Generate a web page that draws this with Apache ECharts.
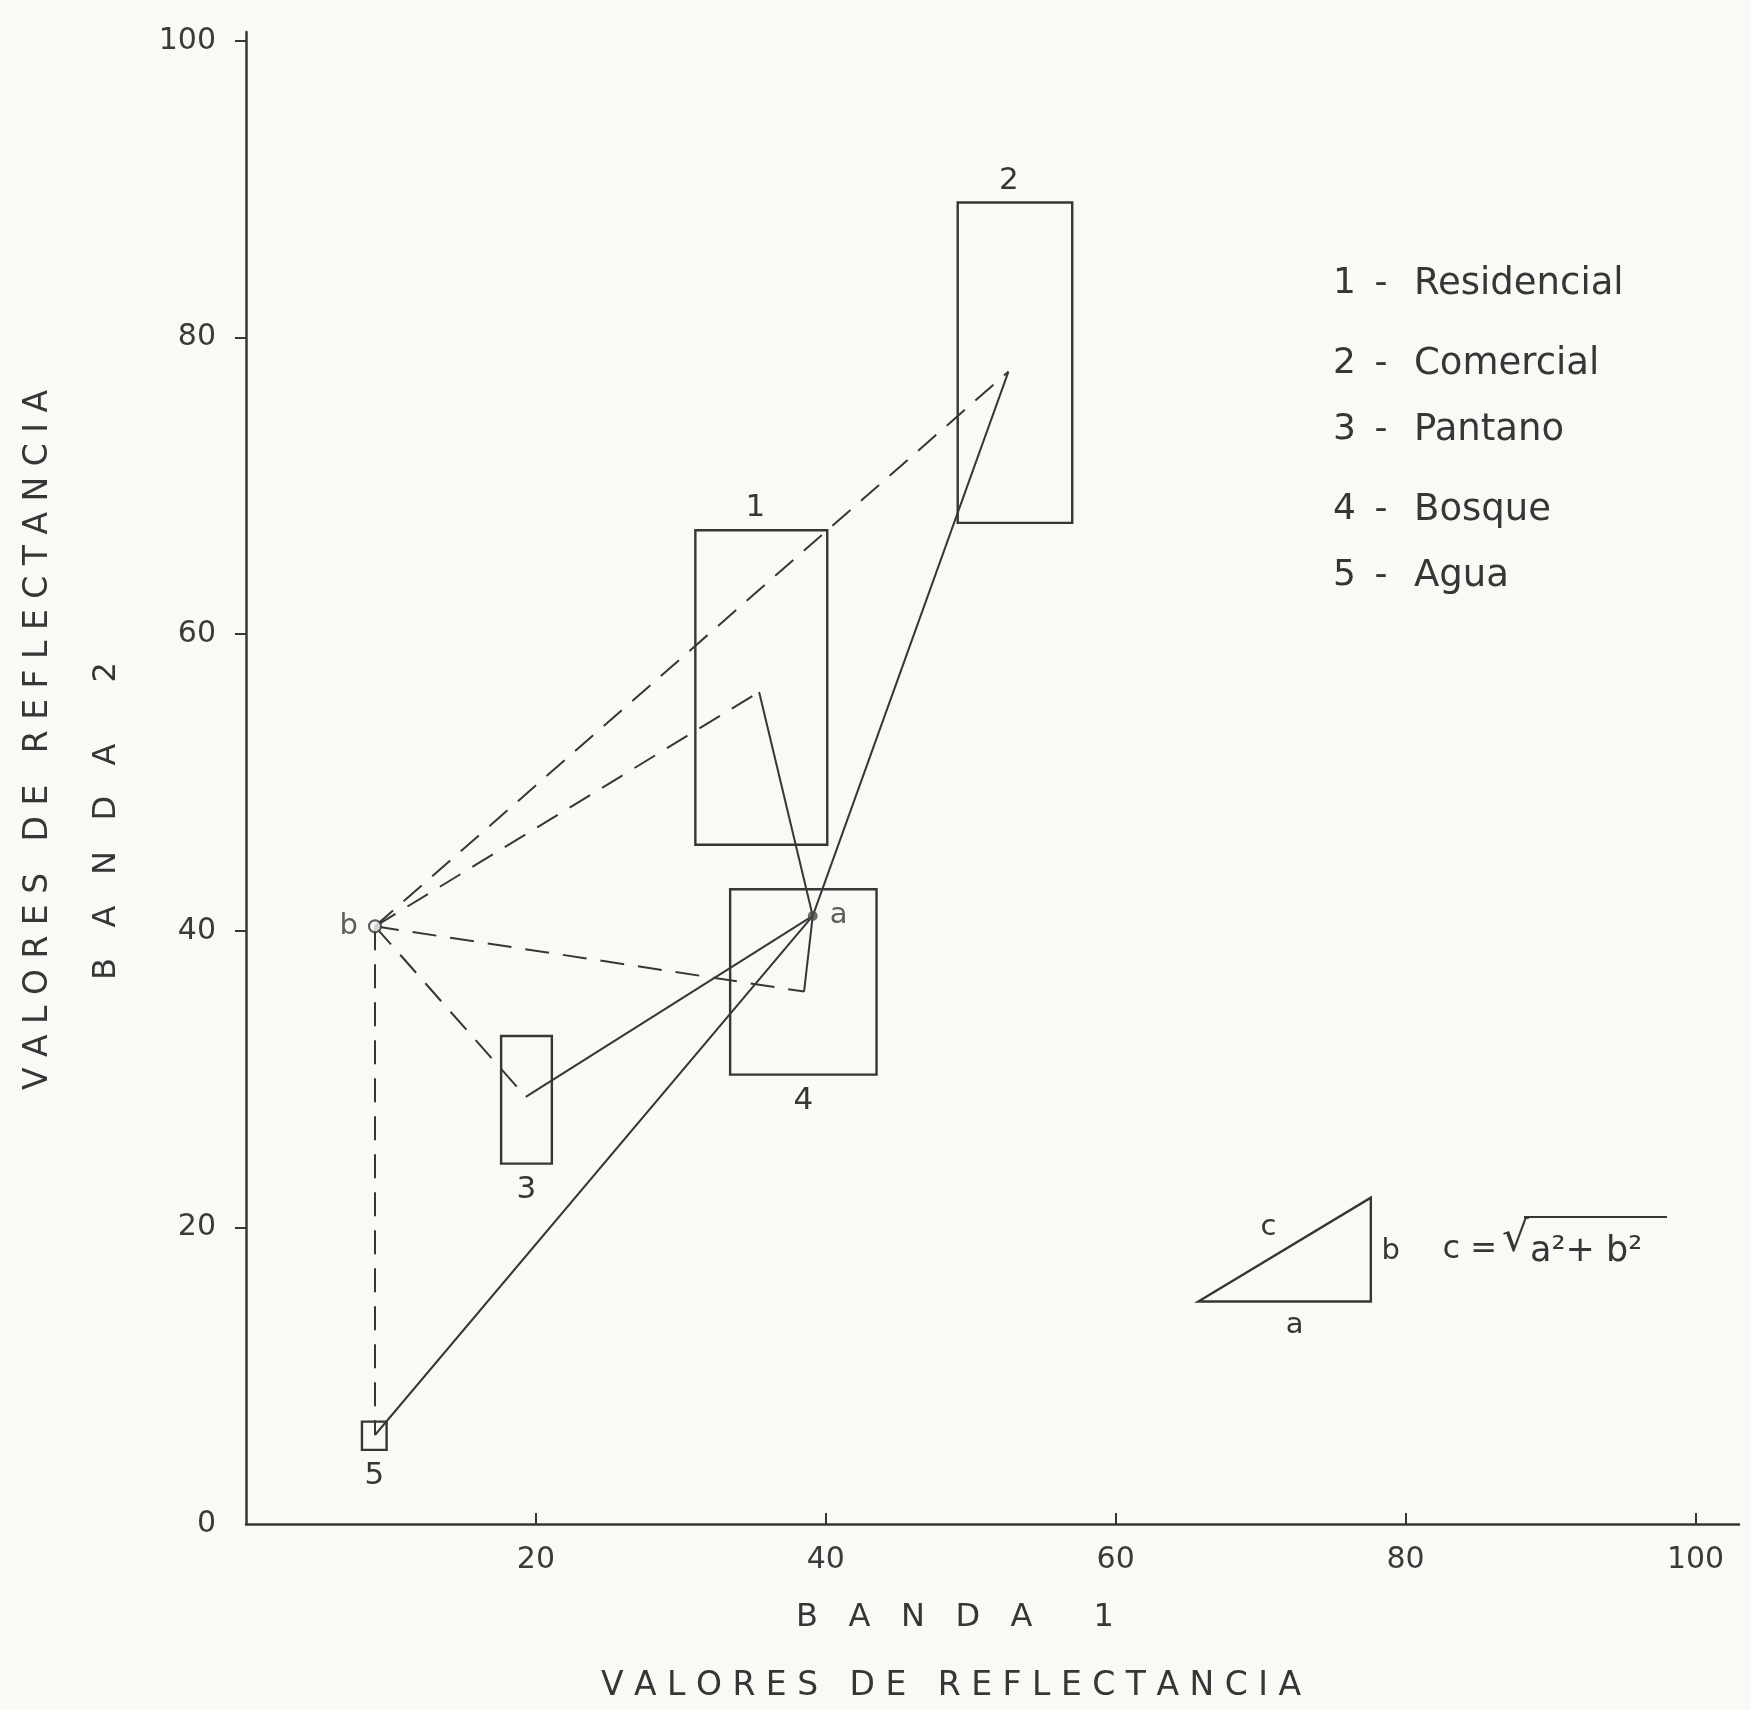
<!DOCTYPE html>
<html>
<head>
<meta charset="utf-8">
<title>Banda 1 / Banda 2 — valores de reflectancia</title>
<script src="https://cdn.jsdelivr.net/npm/echarts@6/dist/echarts.min.js"></script>
<style>
  html, body { margin: 0; padding: 0; background: #f9f9f6; }
  #chart { width: 1751px; height: 1710px; }
</style>
</head>
<body>
<div id="chart"></div>
<script>
// Land-cover classes
const classIds   = ['1', '2', '3', '4', '5'];
const classNames = ['Residencial', 'Comercial', 'Pantano', 'Bosque', 'Agua'];

// Reflectance range of each class (Banda 1 on x, Banda 2 on y)
const boxXMin = [31.0, 49.1, 17.6, 33.4, 8.0];
const boxXMax = [40.1, 57.0, 21.1, 43.5, 9.7];
const boxYMin = [45.8, 67.5, 24.3, 30.3, 5.0];
const boxYMax = [67.0, 89.1, 32.9, 42.8, 6.9];

// Class means
const meanX = [35.4, 52.6, 19.3, 38.5, 8.9];
const meanY = [56.1, 77.7, 28.8, 35.9, 6.0];

// Unknown pixels to classify
const pixelA = [39.1, 41.0];
const pixelB = [8.9, 40.3];

// Reference right triangle for the distance formula
const triX = [65.7, 77.6, 77.6];
const triY = [15.0, 15.0, 22.0];

// Axis ticks
const xTickLabels = [20, 40, 60, 80, 100];
const yTickLabels = [0, 20, 40, 60, 80, 100];
const yTickMarks  = [20, 40, 60, 80, 100];

const INK = '#363636';
const FONT = 'DejaVu Sans';

const chart = echarts.init(document.getElementById('chart'), null, { renderer: 'canvas' });

const boxData = classIds.map((id, i) => [boxXMin[i], boxXMax[i], boxYMin[i], boxYMax[i], id]);
const labelAbove = [true, true, false, false, false];

const linksFromA = meanX.map((x, i) => ({ coords: [pixelA, [x, meanY[i]]] }));
const linksFromB = meanX.map((x, i) => ({ coords: [pixelB, [x, meanY[i]]] }));

const option = {
  backgroundColor: '#f9f9f6',
  animation: false,
  grid: {
    left: 246, right: 12, top: 32, bottom: 186,
    containLabel: false,
    outerBoundsMode: 'none'
  },
  xAxis: {
    type: 'value', min: 0, max: 103, interval: 20,
    splitLine: { show: false },
    axisLine: { show: true, onZero: false, lineStyle: { color: INK, width: 2.5 } },
    axisTick: { show: true, inside: true, length: 11, customValues: xTickLabels,
                lineStyle: { color: INK, width: 2 } },
    axisLabel: { customValues: xTickLabels, margin: 21, color: '#3a3a3a',
                 fontFamily: FONT, fontSize: 30 }
  },
  yAxis: {
    type: 'value', min: 0, max: 100.6, interval: 20,
    splitLine: { show: false },
    axisLine: { show: true, onZero: false, lineStyle: { color: INK, width: 2.5 } },
    axisTick: { show: true, inside: false, length: 11, customValues: yTickMarks,
                lineStyle: { color: INK, width: 2 } },
    axisLabel: { customValues: yTickLabels, margin: 30, color: '#3a3a3a',
                 fontFamily: FONT, fontSize: 30 }
  },
  series: [
    {
      // class boxes with their number
      type: 'custom',
      name: 'clases',
      data: boxData,
      encode: { x: [0, 1], y: [2, 3] },
      renderItem: function (params, api) {
        const i = params.dataIndex;
        const tl = api.coord([api.value(0), api.value(3)]);
        const br = api.coord([api.value(1), api.value(2)]);
        const cx = (tl[0] + br[0]) / 2;
        const above = labelAbove[i];
        return {
          type: 'group',
          children: [
            {
              type: 'rect',
              shape: { x: tl[0], y: tl[1], width: br[0] - tl[0], height: br[1] - tl[1] },
              style: { fill: null, stroke: INK, lineWidth: 2.4 }
            },
            {
              type: 'text',
              x: cx - (above ? 6 : 0),
              y: above ? tl[1] - 22 : br[1] + 26,
              style: {
                text: classIds[i], fill: INK, fontFamily: FONT, fontSize: 31,
                align: 'center', verticalAlign: 'middle'
              }
            }
          ]
        };
      },
      z: 2
    },
    {
      // distances from pixel b (dashed)
      type: 'lines',
      coordinateSystem: 'cartesian2d',
      data: linksFromB,
      lineStyle: { color: INK, width: 2, type: [24, 14], opacity: 1 },
      z: 3
    },
    {
      // distances from pixel a (solid)
      type: 'lines',
      coordinateSystem: 'cartesian2d',
      data: linksFromA,
      lineStyle: { color: INK, width: 2, type: 'solid', opacity: 1 },
      z: 3
    },
    {
      type: 'scatter',
      name: 'b',
      data: [pixelB],
      symbol: 'circle',
      symbolSize: 12,
      itemStyle: { color: '#f9f9f6', borderColor: INK, borderWidth: 2.2 },
      label: { show: true, formatter: 'b', position: 'left', distance: 10,
               color: INK, fontFamily: FONT, fontSize: 29 },
      z: 5
    },
    {
      type: 'scatter',
      name: 'a',
      data: [pixelA],
      symbol: 'circle',
      symbolSize: 10,
      itemStyle: { color: '#4a4a4a' },
      label: { show: true, formatter: 'a', position: 'right', distance: 12,
               color: INK, fontFamily: FONT, fontSize: 29 },
      z: 5
    },
    {
      // right triangle sketch: legs a, b and hypotenuse c
      type: 'custom',
      name: 'triangulo',
      data: [[triX[0], triY[0]]],
      renderItem: function (params, api) {
        const p = triX.map((x, k) => api.coord([x, triY[k]]));
        const midA = [(p[0][0] + p[1][0]) / 2, p[0][1]];
        const midB = [p[1][0], (p[1][1] + p[2][1]) / 2];
        const midC = [(p[0][0] + p[2][0]) / 2, (p[0][1] + p[2][1]) / 2];
        const txt = (s, x, y) => ({
          type: 'text', x: x, y: y,
          style: { text: s, fill: INK, fontFamily: FONT, fontSize: 29,
                   align: 'center', verticalAlign: 'middle' }
        });
        return {
          type: 'group',
          children: [
            {
              type: 'polygon',
              shape: { points: p },
              style: { fill: null, stroke: INK, lineWidth: 2.4 }
            },
            txt('a', midA[0] + 10, midA[1] + 24),
            txt('b', midB[0] + 20, midB[1] + 2),
            txt('c', midC[0] - 16, midC[1] - 22)
          ]
        };
      },
      z: 2
    }
  ],
  graphic: [
    // axis titles
    {
      type: 'text', x: 955, y: 1618,
      style: { text: 'B   A   N   D   A      1', fill: INK, fontFamily: FONT, fontSize: 32,
               align: 'center', verticalAlign: 'middle' }
    },
    {
      type: 'text', x: 951, y: 1686,
      style: { text: 'V A L O R E S   D E   R E F L E C T A N C I A', fill: INK,
               fontFamily: FONT, fontSize: 33, align: 'center', verticalAlign: 'middle' }
    },
    {
      type: 'text', x: 38, y: 740, rotation: Math.PI / 2,
      style: { text: 'V A L O R E S   D E   R E F L E C T A N C I A', fill: INK,
               fontFamily: FONT, fontSize: 33, align: 'center', verticalAlign: 'middle' }
    },
    {
      type: 'text', x: 107, y: 821, rotation: Math.PI / 2,
      style: { text: 'B   A   N   D   A      2', fill: INK, fontFamily: FONT, fontSize: 32,
               align: 'center', verticalAlign: 'middle' }
    },
    // distance formula
    {
      type: 'text', x: 1497, y: 1250,
      style: { text: 'c =', fill: INK, fontFamily: FONT, fontSize: 32,
               align: 'right', verticalAlign: 'middle' }
    },
    {
      type: 'text', x: 1502, y: 1240,
      style: { text: '√', fill: INK, fontFamily: FONT, fontSize: 42,
               align: 'left', verticalAlign: 'middle' }
    },
    {
      type: 'text', x: 1530, y: 1252,
      style: { text: 'a²+ b²', fill: INK, fontFamily: FONT, fontSize: 35,
               align: 'left', verticalAlign: 'middle' }
    },
    {
      type: 'line',
      shape: { x1: 1524, y1: 1217, x2: 1667, y2: 1217 },
      style: { stroke: INK, lineWidth: 2.2 }
    }
  ].concat(
    // class key
    classIds.flatMap((id, i) => {
      const rowY = [284, 364, 430, 510, 576][i];
      return [
        { type: 'text', x: 1333, y: rowY,
          style: { text: id, fill: INK, fontFamily: FONT, fontSize: 36,
                   align: 'left', verticalAlign: 'middle' } },
        { type: 'text', x: 1381, y: rowY,
          style: { text: '-', fill: INK, fontFamily: FONT, fontSize: 36,
                   align: 'center', verticalAlign: 'middle' } },
        { type: 'text', x: 1414, y: rowY,
          style: { text: classNames[i], fill: INK, fontFamily: FONT, fontSize: 37,
                   align: 'left', verticalAlign: 'middle' } }
      ];
    })
  )
};

chart.setOption(option);
</script>
</body>
</html>
